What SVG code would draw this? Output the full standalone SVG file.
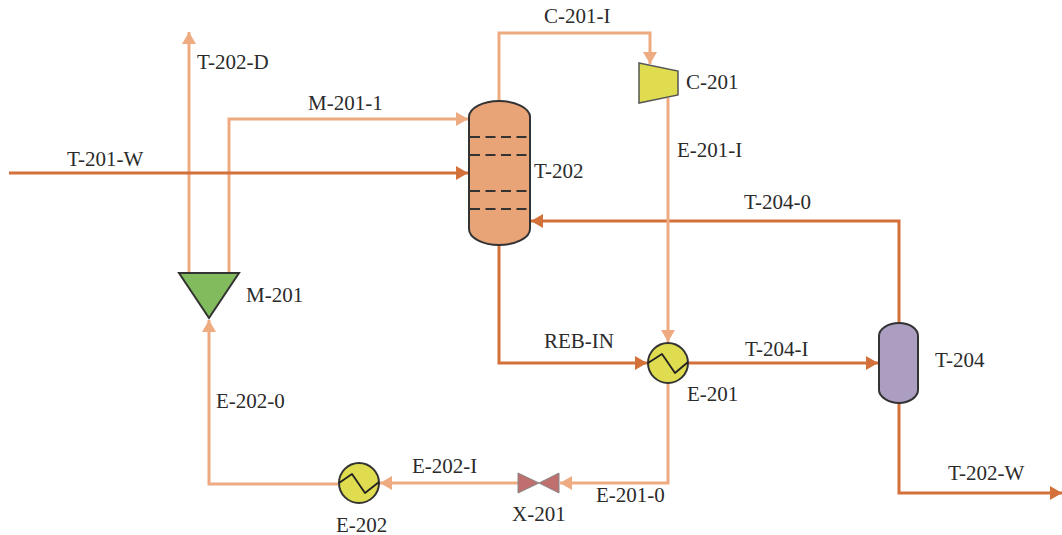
<svg xmlns="http://www.w3.org/2000/svg" width="1062" height="535" viewBox="0 0 1062 535">
<style>
text{font-family:"Liberation Serif","Times New Roman",serif;font-size:21px;fill:#2b2b2b}
.l{fill:none;stroke:#eeaa80;stroke-width:3}
.d{fill:none;stroke:#d4703a;stroke-width:3}
.s{stroke:#333;stroke-width:2}
.z{fill:none;stroke:#222;stroke-width:1.8;stroke-linejoin:round}
.t{stroke:#333;stroke-width:1.8;stroke-dasharray:10 5.5}
</style>
<defs>
<marker id="al" markerUnits="userSpaceOnUse" markerWidth="13" markerHeight="14" refX="12" refY="7" orient="auto"><path d="M0 0L12 7L0 14z" fill="#eeaa80"/></marker>
<marker id="ad" markerUnits="userSpaceOnUse" markerWidth="13" markerHeight="14" refX="12" refY="7" orient="auto"><path d="M0 0L12 7L0 14z" fill="#d4703a"/></marker>
</defs>
<g id="connectors">
<path class="l" marker-end="url(#al)" d="M189 272V32"/>
<path class="l" marker-end="url(#al)" d="M229 272V119H468"/>
<path class="d" marker-end="url(#ad)" d="M9 173H468"/>
<path class="l" marker-end="url(#al)" d="M499 101V33H650V64"/>
<path class="d" marker-end="url(#ad)" d="M899 323V221H531"/>
<path class="l" marker-end="url(#al)" d="M668 98V342"/>
<path class="d" marker-end="url(#ad)" d="M499 245V363H647"/>
<path class="d" marker-end="url(#ad)" d="M689 363H878"/>
<path class="d" marker-end="url(#ad)" d="M899 403V493H1062"/>
<path class="l" marker-end="url(#al)" d="M668 383V483H560"/>
<path class="l" marker-end="url(#al)" d="M518 483H380"/>
<path class="l" marker-end="url(#al)" d="M338 484H209V320"/>
</g>
<g id="M-201"><path class="s" fill="#82bb5e" d="M179 273H239L209 318z"/><text x="246" y="302">M-201</text></g>
<g id="T-202"><path class="s" fill="#e8a377" d="M469 117C469 108 483 101 499 101S530 108 530 117V229C530 238 515 245 499 245S469 238 469 229z"/>
<path class="t" d="M470 137H529M470 155H529M470 191H529M470 209H529"/><text x="534" y="178">T-202</text></g>
<g id="C-201"><path fill="#dfdc50" stroke="#555" stroke-width="1.5" d="M639 63L678 71V95L639 103z"/><text x="686" y="89">C-201</text></g>
<g id="E-201"><circle class="s" cx="668" cy="363" r="20" fill="#dfdc50"/><path class="z" d="M648 363L662 354L675 373L688 362"/><text x="687" y="401">E-201</text></g>
<g id="T-204"><path class="s" fill="#ab9ec0" d="M879 336C879 329 888 323 899 323S918 329 918 336V390C918 397 909 403 899 403S879 397 879 390z"/><text x="935" y="367">T-204</text></g>
<g id="E-202"><circle class="s" cx="359" cy="483" r="20" fill="#dfdc50"/><path class="z" d="M339 483L352 474L365 493L379 482"/><text x="336" y="532">E-202</text></g>
<g id="X-201"><path fill="#bf6f6d" stroke="#888" stroke-width="1" d="M518 473L539 483L518 493zM559 473L539 483L559 493z"/><text x="512" y="521">X-201</text></g>
<g id="labels">
<text x="197" y="69">T-202-D</text>
<text x="308" y="110">M-201-1</text>
<text x="67" y="166">T-201-W</text>
<text x="544" y="23">C-201-I</text>
<text x="677" y="157">E-201-I</text>
<text x="744" y="209">T-204-0</text>
<text x="544" y="348">REB-IN</text>
<text x="745" y="356">T-204-I</text>
<text x="216" y="408">E-202-0</text>
<text x="412" y="473">E-202-I</text>
<text x="596" y="502">E-201-0</text>
<text x="948" y="480">T-202-W</text>
</g>
</svg>
